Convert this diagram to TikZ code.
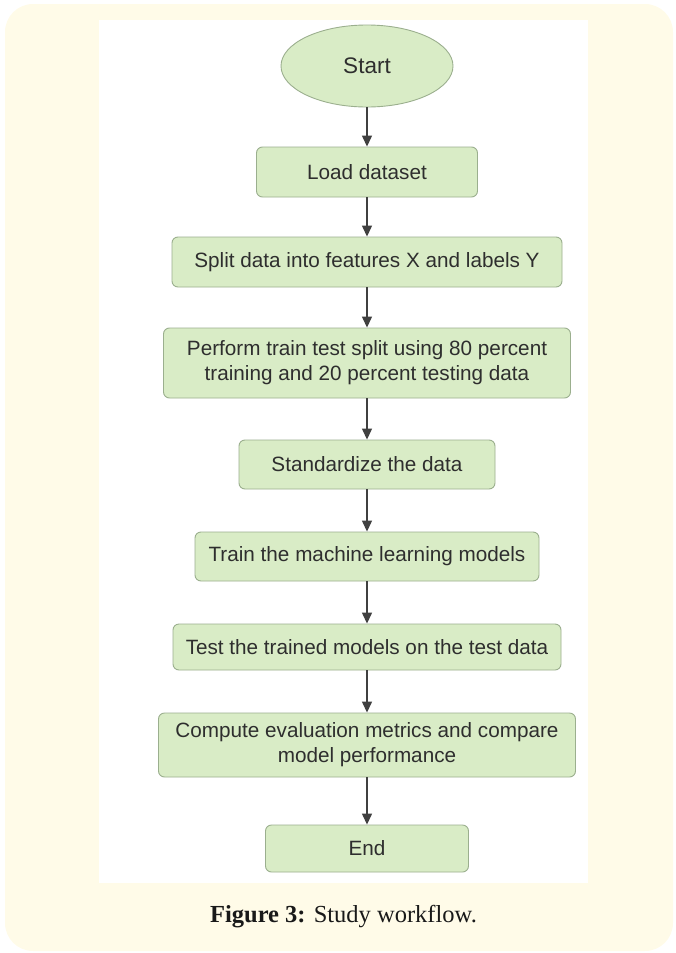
\documentclass[tikz,border=0pt]{standalone}
\usepackage{fontspec}
\setmainfont{Liberation Serif}
\setsansfont{Liberation Sans}
\usetikzlibrary{shapes.geometric,arrows.meta}
\definecolor{cream}{HTML}{FFFBE8}
\definecolor{boxfill}{HTML}{D9ECC6}
\definecolor{boxline}{HTML}{9BAF8E}
\definecolor{txt}{HTML}{2E2E2E}
\definecolor{arr}{HTML}{404040}
\begin{document}
\begin{tikzpicture}[x=1pt,y=-1pt,
  flowbox/.style={draw=boxline,line width=0.9pt,fill=boxfill,rounded corners=6pt,inner sep=0pt,align=center,
    font=\sffamily\fontsize{20.7}{25}\selectfont,text=txt},
  flowarrow/.style={draw=arr,line width=1.3pt,-{Triangle[width=10pt,length=11pt]}}]
\useasboundingbox (0,0) rectangle (675,953);
\fill[cream,rounded corners=28pt] (5,4) rectangle (673,951);
\fill[white] (99,20) rectangle (588,883);
\node[flowbox,ellipse,minimum width=172pt,minimum height=82pt,font=\sffamily\fontsize{22.5}{25}\selectfont] (start) at (367,66) {Start};
\node[flowbox,minimum width=221pt,minimum height=50pt] (load) at (367,172) {Load dataset};
\node[flowbox,minimum width=390pt,minimum height=50pt] (split) at (367,262) {Split data into features X and labels Y};
\node[flowbox,minimum width=407pt,minimum height=70pt] (tts) at (367,363) {Perform train test split using 80 percent\\training and 20 percent testing data};
\node[flowbox,minimum width=256pt,minimum height=49pt] (std) at (367,464.5) {Standardize the data};
\node[flowbox,minimum width=344pt,minimum height=49pt] (train) at (367,556.5) {Train the machine learning models};
\node[flowbox,minimum width=388pt,minimum height=46pt] (test) at (367,647) {Test the trained models on the test data};
\node[flowbox,minimum width=417pt,minimum height=64pt] (eval) at (367,745) {Compute evaluation metrics and compare\\model performance};
\node[flowbox,minimum width=203pt,minimum height=47pt] (end) at (367,848.5) {End};
\draw[flowarrow] (start) -- (load);
\draw[flowarrow] (load) -- (split);
\draw[flowarrow] (split) -- (tts);
\draw[flowarrow] (tts) -- (std);
\draw[flowarrow] (std) -- (train);
\draw[flowarrow] (train) -- (test);
\draw[flowarrow] (test) -- (eval);
\draw[flowarrow] (eval) -- (end);
\node[font=\fontsize{24.5}{28}\selectfont,text=black!90] (cap) at (343.5,917) {\textbf{Figure 3:} Study workflow.};
\end{tikzpicture}
\end{document}
